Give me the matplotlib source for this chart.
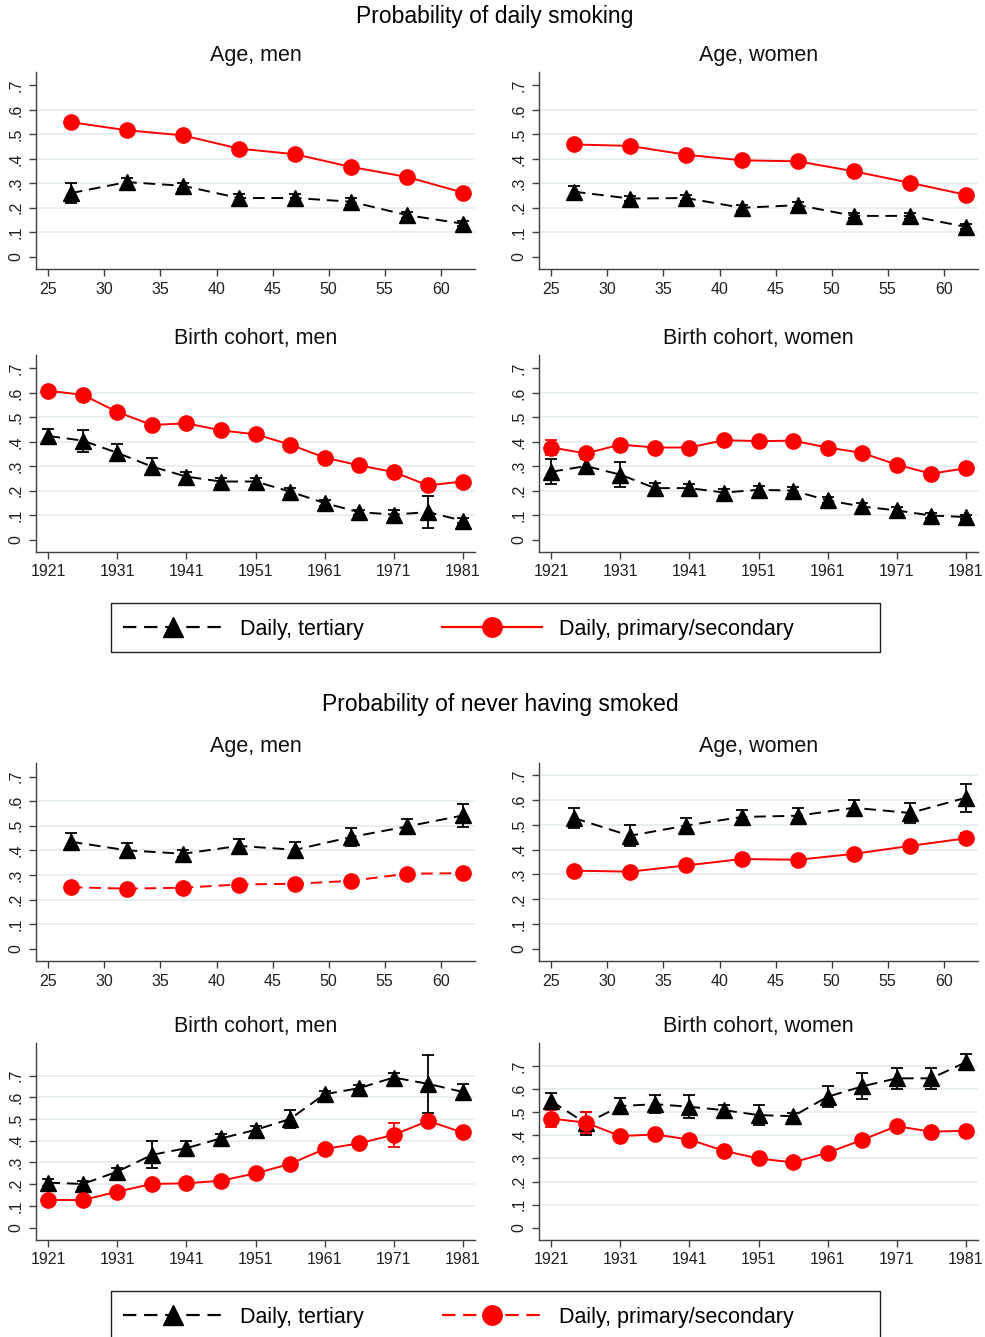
import matplotlib
matplotlib.use("Agg")
import matplotlib.pyplot as plt
from matplotlib.lines import Line2D
from matplotlib.patches import Rectangle

plt.rcParams.update({
    "font.family": ["Liberation Sans", "DejaVu Sans"],
    "font.size": 10,
    "axes.linewidth": 1.0,
})

RED = "#ff0000"
BLACK = "#000000"
GRID = "#e3ecf0"
SPINE = "#404040"

AGE = [27, 32, 37, 42, 47, 52, 57, 62]
COHORT = [1921, 1926, 1931, 1936, 1941, 1946, 1951, 1956, 1961, 1966, 1971, 1976, 1981]

# probability of daily smoking
DAILY_AGE_MEN_TER = [0.26, 0.305, 0.29, 0.24, 0.24, 0.225, 0.17, 0.135]
DAILY_AGE_MEN_TER_ERR = [0.04, 0.015, 0.012, 0.015, 0.015, 0.015, 0.012, 0.01]
DAILY_AGE_MEN_PS = [0.55, 0.517, 0.496, 0.442, 0.419, 0.367, 0.326, 0.262]
DAILY_AGE_MEN_PS_ERR = [0.008] * 8

DAILY_AGE_WOMEN_TER = [0.266, 0.238, 0.24, 0.2, 0.211, 0.167, 0.167, 0.122]
DAILY_AGE_WOMEN_TER_ERR = [0.022, 0.012, 0.012, 0.012, 0.012, 0.01, 0.012, 0.01]
DAILY_AGE_WOMEN_PS = [0.459, 0.453, 0.417, 0.394, 0.39, 0.349, 0.302, 0.253]
DAILY_AGE_WOMEN_PS_ERR = [0.008] * 8

DAILY_COH_MEN_TER = [0.424, 0.405, 0.355, 0.299, 0.258, 0.238, 0.238, 0.197,
                     0.15, 0.113, 0.103, 0.113, 0.078]
DAILY_COH_MEN_TER_ERR = [0.03, 0.045, 0.035, 0.035, 0.02, 0.015, 0.015, 0.015,
                         0.012, 0.01, 0.02, 0.064, 0.01]
DAILY_COH_MEN_PS = [0.609, 0.592, 0.522, 0.469, 0.476, 0.447, 0.431, 0.389,
                    0.336, 0.304, 0.277, 0.222, 0.238]
DAILY_COH_MEN_PS_ERR = [0.01] * 13

DAILY_COH_WOMEN_TER = [0.278, 0.301, 0.266, 0.211, 0.211, 0.193, 0.204, 0.201,
                       0.161, 0.136, 0.12, 0.099, 0.093]
DAILY_COH_WOMEN_TER_ERR = [0.05, 0.03, 0.05, 0.02, 0.015, 0.015, 0.015, 0.015,
                           0.012, 0.015, 0.015, 0.01, 0.01]
DAILY_COH_WOMEN_PS = [0.377, 0.353, 0.389, 0.377, 0.377, 0.407, 0.403, 0.405,
                      0.377, 0.355, 0.307, 0.27, 0.292]
DAILY_COH_WOMEN_PS_ERR = [0.032, 0.015, 0.01, 0.01, 0.01, 0.01, 0.01, 0.01,
                          0.01, 0.01, 0.01, 0.01, 0.01]

# probability of never having smoked
NEVER_AGE_MEN_TER = [0.435, 0.4, 0.386, 0.418, 0.402, 0.454, 0.497, 0.542]
NEVER_AGE_MEN_TER_ERR = [0.035, 0.03, 0.015, 0.03, 0.033, 0.035, 0.03, 0.047]
NEVER_AGE_MEN_PS = [0.25, 0.244, 0.248, 0.261, 0.264, 0.276, 0.305, 0.307]
NEVER_AGE_MEN_PS_ERR = [0.008] * 8

NEVER_AGE_WOMEN_TER = [0.528, 0.456, 0.497, 0.532, 0.537, 0.569, 0.548, 0.61]
NEVER_AGE_WOMEN_TER_ERR = [0.04, 0.042, 0.032, 0.03, 0.03, 0.03, 0.04, 0.056]
NEVER_AGE_WOMEN_PS = [0.315, 0.311, 0.336, 0.362, 0.359, 0.383, 0.415, 0.446]
NEVER_AGE_WOMEN_PS_ERR = [0.008, 0.008, 0.008, 0.008, 0.008, 0.008, 0.01, 0.02]

NEVER_COH_MEN_TER = [0.207, 0.201, 0.258, 0.335, 0.366, 0.411, 0.45, 0.5,
                     0.614, 0.642, 0.691, 0.662, 0.625]
NEVER_COH_MEN_TER_ERR = [0.015, 0.015, 0.015, 0.062, 0.035, 0.022, 0.02, 0.043,
                         0.015, 0.015, 0.02, 0.135, 0.038]
NEVER_COH_MEN_PS = [0.127, 0.127, 0.166, 0.201, 0.204, 0.216, 0.25, 0.293,
                    0.362, 0.388, 0.427, 0.491, 0.438]
NEVER_COH_MEN_PS_ERR = [0.01, 0.01, 0.01, 0.01, 0.01, 0.01, 0.01, 0.01,
                        0.01, 0.01, 0.054, 0.025, 0.02]

NEVER_COH_WOMEN_TER = [0.548, 0.452, 0.527, 0.535, 0.524, 0.509, 0.488, 0.483,
                       0.567, 0.612, 0.647, 0.647, 0.716]
NEVER_COH_WOMEN_TER_ERR = [0.035, 0.05, 0.033, 0.04, 0.05, 0.022, 0.043, 0.015,
                           0.045, 0.056, 0.045, 0.045, 0.035]
NEVER_COH_WOMEN_PS = [0.473, 0.455, 0.397, 0.404, 0.382, 0.333, 0.3, 0.283,
                      0.325, 0.38, 0.44, 0.416, 0.42]
NEVER_COH_WOMEN_PS_ERR = [0.037, 0.045, 0.01, 0.01, 0.01, 0.01, 0.01, 0.01,
                          0.01, 0.01, 0.015, 0.01, 0.01]

YTICKS = [0, 0.1, 0.2, 0.3, 0.4, 0.5, 0.6, 0.7]
YTICKLABELS = ["0", ".1", ".2", ".3", ".4", ".5", ".6", ".7"]
LEGEND_LABELS = ["Daily, tertiary", "Daily, primary/secondary"]
DASH = (0, (6, 3.5))

W, H = 985, 1337
fig = plt.figure(figsize=(W / 100, H / 100), dpi=100)


def px_axes(left, top, right, bottom):
    return fig.add_axes([left / W, 1 - bottom / H, (right - left) / W,
                         (bottom - top) / H])


def series(ax, x, y, err, color, ls, marker, ms):
    ax.errorbar(x, y, yerr=err, fmt="none", ecolor=color, elinewidth=1.3,
                capsize=4, capthick=1.3, zorder=3)
    ax.plot(x, y, color=color, ls=ls, lw=1.4, marker=marker, ms=ms,
            mec=color, mfc=color, zorder=4)


def panel(ax, title, x, ter, ter_err, ps, ps_err, ps_ls, kind, ylim, grid_top):
    series(ax, x, ter, ter_err, BLACK, DASH, "^", 11)
    series(ax, x, ps, ps_err, RED, ps_ls, "o", 11)
    for g in YTICKS[1:]:
        if g <= grid_top + 1e-9:
            ax.axhline(g, color=GRID, lw=1.2, zorder=1)
    ax.set_ylim(*ylim)
    ax.set_yticks(YTICKS)
    ax.set_yticklabels(YTICKLABELS, rotation=90, va="center")
    if kind == "age":
        ax.set_xlim(23.9, 63.05)
        ax.set_xticks(range(25, 61, 5))
    else:
        ax.set_xlim(1919.2, 1982.8)
        ax.set_xticks(range(1921, 1982, 10))
    for s in ("top", "right"):
        ax.spines[s].set_visible(False)
    for s in ("left", "bottom"):
        ax.spines[s].set_color(SPINE)
    ax.tick_params(direction="out", length=5, width=1.0, color=SPINE,
                   labelsize=11.5, labelcolor="#202020", pad=4)
    ax.set_title(title, fontsize=15.5, pad=8, color="#101010")


def legend_box(top, bottom, ps_ls):
    fig.add_artist(Rectangle((111 / W, 1 - bottom / H), (880 - 111) / W,
                             (bottom - top) / H, transform=fig.transFigure,
                             fill=False, edgecolor="#202020", lw=1.0))
    handles = [
        Line2D([], [], color=BLACK, ls=DASH, lw=1.6, marker="^", ms=14),
        Line2D([], [], color=RED, ls=ps_ls, lw=1.6, marker="o", ms=14),
    ]
    fig.legend(handles, LEGEND_LABELS, loc="center left", ncol=2,
               frameon=False, fontsize=15.5, handlelength=4.65,
               handletextpad=0.8, columnspacing=3.6, borderpad=0,
               borderaxespad=0,
               bbox_to_anchor=(123 / W, 1 - (top + 26) / H))


LEFT = (36, 475)
RIGHT = (539, 978)
ROWS = [(72, 269), (355, 552), (763, 961), (1043, 1240)]
LIM = (-0.05, 0.755)

panel(px_axes(LEFT[0], ROWS[0][0], LEFT[1], ROWS[0][1]), "Age, men", AGE,
      DAILY_AGE_MEN_TER, DAILY_AGE_MEN_TER_ERR, DAILY_AGE_MEN_PS,
      DAILY_AGE_MEN_PS_ERR, "-", "age", LIM, 0.6)
panel(px_axes(RIGHT[0], ROWS[0][0], RIGHT[1], ROWS[0][1]), "Age, women", AGE,
      DAILY_AGE_WOMEN_TER, DAILY_AGE_WOMEN_TER_ERR, DAILY_AGE_WOMEN_PS,
      DAILY_AGE_WOMEN_PS_ERR, "-", "age", LIM, 0.6)
panel(px_axes(LEFT[0], ROWS[1][0], LEFT[1], ROWS[1][1]), "Birth cohort, men",
      COHORT, DAILY_COH_MEN_TER, DAILY_COH_MEN_TER_ERR, DAILY_COH_MEN_PS,
      DAILY_COH_MEN_PS_ERR, "-", "cohort", LIM, 0.6)
panel(px_axes(RIGHT[0], ROWS[1][0], RIGHT[1], ROWS[1][1]),
      "Birth cohort, women", COHORT, DAILY_COH_WOMEN_TER,
      DAILY_COH_WOMEN_TER_ERR, DAILY_COH_WOMEN_PS, DAILY_COH_WOMEN_PS_ERR,
      "-", "cohort", LIM, 0.6)

panel(px_axes(LEFT[0], ROWS[2][0], LEFT[1], ROWS[2][1]), "Age, men", AGE,
      NEVER_AGE_MEN_TER, NEVER_AGE_MEN_TER_ERR, NEVER_AGE_MEN_PS,
      NEVER_AGE_MEN_PS_ERR, DASH, "age", LIM, 0.6)
panel(px_axes(RIGHT[0], ROWS[2][0], RIGHT[1], ROWS[2][1]), "Age, women", AGE,
      NEVER_AGE_WOMEN_TER, NEVER_AGE_WOMEN_TER_ERR, NEVER_AGE_WOMEN_PS,
      NEVER_AGE_WOMEN_PS_ERR, "-", "age", (-0.05, 0.75), 0.7)
panel(px_axes(LEFT[0], ROWS[3][0], LEFT[1], ROWS[3][1]), "Birth cohort, men",
      COHORT, NEVER_COH_MEN_TER, NEVER_COH_MEN_TER_ERR, NEVER_COH_MEN_PS,
      NEVER_COH_MEN_PS_ERR, "-", "cohort", (-0.057, 0.85), 0.7)
panel(px_axes(RIGHT[0], ROWS[3][0], RIGHT[1], ROWS[3][1]),
      "Birth cohort, women", COHORT, NEVER_COH_WOMEN_TER,
      NEVER_COH_WOMEN_TER_ERR, NEVER_COH_WOMEN_PS, NEVER_COH_WOMEN_PS_ERR,
      "-", "cohort", (-0.053, 0.80), 0.7)

fig.text(495 / W, 1 - 17 / H, "Probability of daily smoking", ha="center",
         va="center", fontsize=16.5)
fig.text(500 / W, 1 - 704 / H, "Probability of never having smoked",
         ha="center", va="center", fontsize=16.5)

legend_box(603, 652, "-")
legend_box(1291, 1345, DASH)

fig.savefig("out.png", dpi=100)
